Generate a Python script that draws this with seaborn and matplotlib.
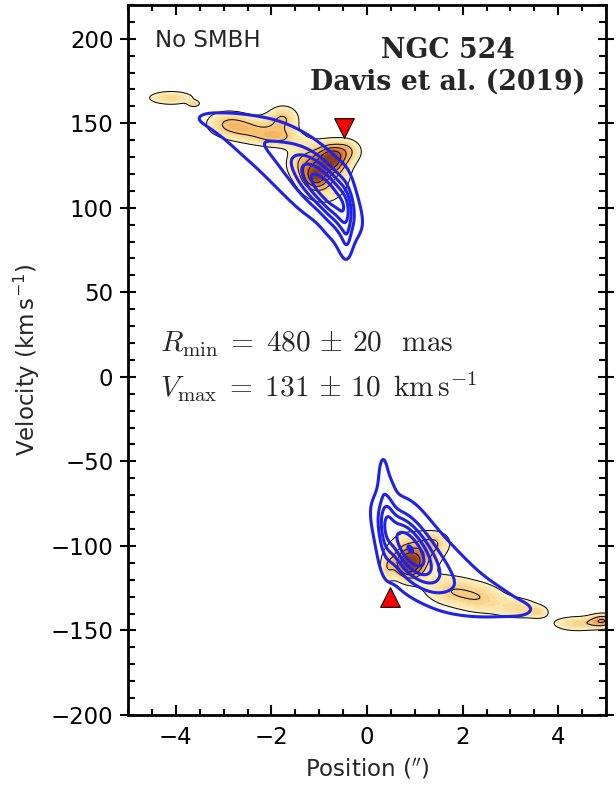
import numpy as np
import matplotlib
matplotlib.use("Agg")
import matplotlib.pyplot as plt
from matplotlib.colors import LinearSegmentedColormap
import seaborn as sns

# ---- observed CO emission, described as clumps --------------------------
# position ("), velocity (km/s), widths and relative peak brightness
obs_pos = [-4.10, -3.62, -2.95, -2.40, -1.75, -1.85, -0.75, -1.08, -0.90, -0.40, -1.30,
           0.90, 0.82, 1.30, 0.42, 1.45, 1.70, 2.40, 3.20, 3.60, 4.40, 4.95]
obs_vel = [165, 161.5, 150, 146, 153, 141, 129, 118, 120, 134, 127,
           -111, -106, -104, -113, -97, -126, -131, -137, -139, -146, -144]
obs_sig_pos = [0.38, 0.08, 0.35, 0.40, 0.25, 0.35, 0.20, 0.18, 0.45, 0.22, 0.30,
               0.20, 0.34, 0.30, 0.10, 0.25, 0.40, 0.40, 0.35, 0.15, 0.40, 0.20]
obs_sig_vel = [3.2, 1.2, 6, 6, 6, 4, 5.5, 5, 14, 5, 7,
               5.5, 11, 7, 6, 5, 7, 7, 5, 2.5, 3.5, 3]
obs_amp = [0.50, 0.40, 0.45, 0.45, 0.50, 0.40, 0.70, 0.55, 0.50, 0.40, 0.35,
           0.75, 0.50, 0.30, 0.30, 0.32, 0.45, 0.45, 0.42, 0.30, 0.50, 0.60]

# ---- best-fitting model without a black hole ----------------------------
mod_pos = [-3.45, -3.10, -2.75, -2.40, -2.05, -1.70, -1.35, -1.00, -0.65, -0.45, -0.42, -0.85,
           0.40, 0.75, 1.10, 1.45, 1.80, 2.15, 2.50, 2.85, 3.20, 3.40, 0.33, 0.85]
mod_vel = [153.5, 150, 146.5, 141, 136, 129, 121, 113, 101, 93, 81, 110,
           -85, -97, -106, -114, -121, -127, -131, -134, -137, -138, -58, -100]
mod_sig_pos = [0.30, 0.30, 0.30, 0.30, 0.30, 0.30, 0.30, 0.30, 0.20, 0.12, 0.06, 0.40,
               0.12, 0.30, 0.30, 0.30, 0.30, 0.30, 0.30, 0.30, 0.28, 0.25, 0.06, 0.40]
mod_sig_vel = [4, 5.5, 7.5, 9, 11, 12, 12.5, 13, 14, 15, 6, 14,
               19, 17, 14.5, 13, 12.5, 11, 9, 7.5, 5.5, 4, 8, 15]
mod_rho = [0, 0, 0, 0, 0, 0, 0, 0, 0, 0, 0, -0.7,
           0, 0, 0, 0, 0, 0, 0, 0, 0, 0, 0, -0.7]
mod_amp = [0.07, 0.085, 0.11, 0.14, 0.16, 0.18, 0.20, 0.20, 0.20, 0.25, 0.10, 0.55,
           0.25, 0.22, 0.20, 0.17, 0.14, 0.12, 0.10, 0.085, 0.065, 0.04, 0.12, 0.55]

# turnover radius / velocity markers
tri_pos = [-0.48, 0.48]
tri_vel = [147.0, -130.0]

x_ticks = [-4, -2, 0, 2, 4]
y_ticks = [-200, -150, -100, -50, 0, 50, 100, 150, 200]

obs_levels_line = [0.25, 0.55, 0.75, 0.95]
mod_levels = [0.1, 0.3, 0.45, 0.6, 0.75, 0.9]
obs_colors = ["#fdf1c8", "#fbe3a4", "#f6c171", "#ea9348", "#c8622a", "#8e3c1c"]


def clump_field(X, V, pos, vel, sp, sv, amp, rho=None):
    total = np.zeros_like(X)
    if rho is None:
        rho = [0.0] * len(pos)
    for p, v, a, b, h, r in zip(pos, vel, sp, sv, amp, rho):
        dx = (X - p) / a
        dv = (V - v) / b
        q = (dx ** 2 - 2 * r * dx * dv + dv ** 2) / (1 - r ** 2)
        total += h * np.exp(-0.5 * q)
    return total


sns.set_style("ticks")
plt.rcParams["font.family"] = ["DejaVu Sans"]

xg = np.linspace(-5.3, 5.3, 700)
vg = np.linspace(-215, 235, 700)
X, V = np.meshgrid(xg, vg)
obs = clump_field(X, V, obs_pos, obs_vel, obs_sig_pos, obs_sig_vel, obs_amp)
mod = clump_field(X, V, mod_pos, mod_vel, mod_sig_pos, mod_sig_vel, mod_amp, mod_rho)

cmap = LinearSegmentedColormap.from_list("pv", obs_colors)

fig = plt.figure(figsize=(6.16, 7.89), dpi=100)
ax = fig.add_axes([0.2078, 0.0938, 0.776, 0.900])

ax.contourf(X, V, obs, levels=np.linspace(0.25, 1.15, 20), cmap=cmap, extend="max")
ax.contour(X, V, obs, levels=obs_levels_line, colors="black", linewidths=0.7)
ax.contour(X, V, mod, levels=mod_levels, colors="#1f22e8", linewidths=2.2)

sns.scatterplot(x=tri_pos[:1], y=tri_vel[:1], marker="v", s=200, color="red",
                edgecolor="black", linewidth=0.8, ax=ax, zorder=5)
sns.scatterplot(x=tri_pos[1:], y=tri_vel[1:], marker="^", s=200, color="red",
                edgecolor="black", linewidth=0.8, ax=ax, zorder=5)

ax.set_xlim(-5, 5)
ax.set_ylim(-200, 220)
ax.set_xticks(x_ticks)
ax.set_yticks(y_ticks)
ax.set_xticklabels([f"{t:d}".replace("-", "\u2212") for t in x_ticks])
ax.set_yticklabels([f"{t:d}".replace("-", "\u2212") for t in y_ticks])
ax.xaxis.set_minor_locator(matplotlib.ticker.MultipleLocator(0.5))
ax.yaxis.set_minor_locator(matplotlib.ticker.MultipleLocator(10))
ax.tick_params(axis="both", which="both", top=True, right=True, labelsize=16.5,
               width=1.5, colors="black")
ax.tick_params(axis="x", which="major", direction="in", length=7, pad=8)
ax.tick_params(axis="x", which="minor", direction="in", length=4)
ax.tick_params(axis="y", which="major", direction="inout", length=11, pad=5)
ax.tick_params(axis="y", which="minor", direction="in", length=5)
for s in ax.spines.values():
    s.set_linewidth(2.0)
    s.set_color("black")

ax.set_xlabel("Position ($''$)", fontsize=16.5, labelpad=6)
ax.set_ylabel("Velocity (km$\\,$s$^{-1}$)", fontsize=16.5, labelpad=6)

ax.text(-4.44, 195.3, "No SMBH", fontsize=16.5, ha="left", va="baseline")
ax.text(1.69, 169.8, "NGC 524\nDavis et al. (2019)", fontsize=19.3,
        family="DejaVu Serif", weight="bold", ha="center", va="baseline",
        multialignment="center", linespacing=1.25)
ax.text(-4.33, 14.8, r"$R_{\rm min} \;=\; 480 \,\pm\, 20\ \;\, {\rm mas}$", fontsize=21.2,
        math_fontfamily="cm", ha="left", va="baseline")
ax.text(-4.33, -11.8, r"$V_{\rm max} \;=\; 131 \,\pm\, 10\ \, {\rm km\,s^{-1}}$", fontsize=21.2,
        math_fontfamily="cm", ha="left", va="baseline")

fig.savefig("out.png", dpi=100)
